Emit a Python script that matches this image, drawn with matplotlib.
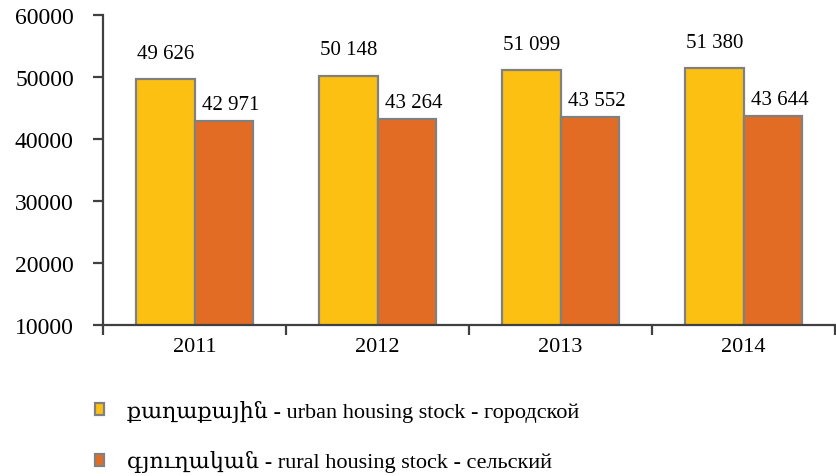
import numpy as np
import matplotlib.pyplot as plt
from matplotlib.ticker import FixedLocator

# data
years = ['2011', '2012', '2013', '2014']
urban = [49626, 50148, 51099, 51380]
rural = [42971, 43264, 43552, 43644]
urban_label = 'քաղաքային - urban housing stock - городской'
rural_label = 'գյուղական - rural housing stock - сельский'

plt.rcParams['font.family'] = ['Liberation Serif', 'DejaVu Serif', 'DejaVu Sans']

fig = plt.figure(figsize=(8.36, 4.77), dpi=100)
ax = fig.add_axes([103 / 836, 1 - 326 / 477, 1 - 103 / 836 - 0.001, (326 - 16) / 477])

x = np.arange(len(years))
w = 0.32
edge = '#808080'
b1 = ax.bar(x - w / 2, urban, w, color='#FCC012', edgecolor=edge, linewidth=1.6,
            label=urban_label, zorder=2)
b2 = ax.bar(x + w / 2, rural, w, color='#E36C25', edgecolor=edge, linewidth=1.6,
            label=rural_label, zorder=2)

def fmt(v):
    return f'{v:,}'.replace(',', ' ')

# value labels above the bars
for xi, v in zip(x, urban):
    ax.annotate(fmt(v), (xi - w / 2, v), xytext=(0, 12), textcoords='offset points',
                ha='center', va='bottom', fontsize=15)
for xi, v in zip(x, rural):
    ax.annotate(fmt(v), (xi + w / 2 + 0.04, v), xytext=(0, 5), textcoords='offset points',
                ha='center', va='bottom', fontsize=15)

ax.set_xlim(-0.5, len(years) - 0.5)
ax.set_ylim(10000, 60000)
ax.set_yticks(range(10000, 60001, 10000))
ax.set_yticklabels([str(t) for t in range(10000, 60001, 10000)], fontsize=17)
ax.set_xticks(x)
ax.set_xticklabels(years, fontsize=16)
ax.xaxis.set_minor_locator(FixedLocator(np.arange(-0.5, len(years), 1.0)))
ax.tick_params(axis='x', which='major', length=0, pad=9)
ax.tick_params(axis='x', which='minor', length=7, width=1.6, color='#404040')
ax.tick_params(axis='y', length=7, width=1.6, color='#404040', pad=14)

for s in ['top', 'right']:
    ax.spines[s].set_visible(False)
for s in ['left', 'bottom']:
    ax.spines[s].set_color('#404040')
    ax.spines[s].set_linewidth(1.6)

fig.legend(handles=[b1, b2], loc='upper left', bbox_to_anchor=(95 / 836, 1 - 401 / 477),
           frameon=False, fontsize=16, handlelength=0.42, handleheight=0.45,
           handletextpad=1.0, labelspacing=1.28, borderpad=0, borderaxespad=0)

fig.savefig('out.png', dpi=100)
